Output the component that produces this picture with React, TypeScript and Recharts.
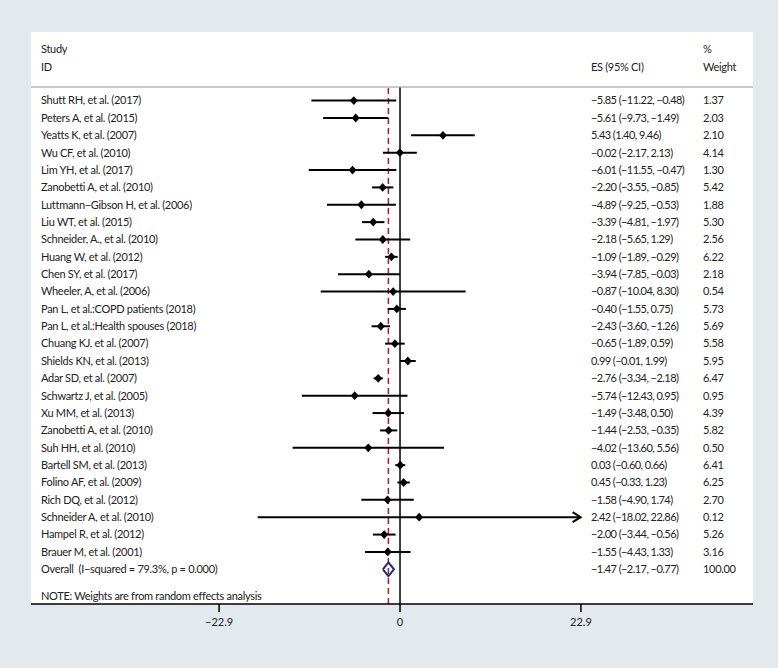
import React from "react"
import { ScatterChart, Scatter, XAxis, YAxis, ReferenceLine } from "recharts"

const studies = [
  "Shutt RH, et al. (2017)",
  "Peters A, et al. (2015)",
  "Yeatts K, et al. (2007)",
  "Wu CF, et al. (2010)",
  "Lim YH, et al. (2017)",
  "Zanobetti A, et al. (2010)",
  "Luttmann\u2212Gibson H, et al. (2006)",
  "Liu WT, et al. (2015)",
  "Schneider, A., et al. (2010)",
  "Huang W, et al. (2012)",
  "Chen SY, et al. (2017)",
  "Wheeler, A, et al. (2006)",
  "Pan L, et al.:COPD patients (2018)",
  "Pan L, et al.:Health spouses (2018)",
  "Chuang KJ, et al. (2007)",
  "Shields KN, et al. (2013)",
  "Adar SD, et al. (2007)",
  "Schwartz J, et al. (2005)",
  "Xu MM, et al. (2013)",
  "Zanobetti A, et al. (2010)",
  "Suh HH, et al. (2010)",
  "Bartell SM, et al. (2013)",
  "Folino AF, et al. (2009)",
  "Rich DQ, et al. (2012)",
  "Schneider A, et al. (2010)",
  "Hampel R, et al. (2012)",
  "Brauer M, et al. (2001)",
]

const es = [
  -5.85, -5.61, 5.43, -0.02, -6.01, -2.2, -4.89, -3.39, -2.18, -1.09, -3.94, -0.87, -0.4, -2.43,
  -0.65, 0.99, -2.76, -5.74, -1.49, -1.44, -4.02, 0.03, 0.45, -1.58, 2.42, -2.0, -1.55,
]
const ciLow = [
  -11.22, -9.73, 1.4, -2.17, -11.55, -3.55, -9.25, -4.81, -5.65, -1.89, -7.85, -10.04, -1.55, -3.6,
  -1.89, -0.01, -3.34, -12.43, -3.48, -2.53, -13.6, -0.6, -0.33, -4.9, -18.02, -3.44, -4.43,
]
const ciHigh = [
  -0.48, -1.49, 9.46, 2.13, -0.47, -0.85, -0.53, -1.97, 1.29, -0.29, -0.03, 8.3, 0.75, -1.26,
  0.59, 1.99, -2.18, 0.95, 0.5, -0.35, 5.56, 0.66, 1.23, 1.74, 22.86, -0.56, 1.33,
]
const weights = [
  1.37, 2.03, 2.1, 4.14, 1.3, 5.42, 1.88, 5.3, 2.56, 6.22, 2.18, 0.54, 5.73, 5.69, 5.58, 5.95,
  6.47, 0.95, 4.39, 5.82, 0.5, 6.41, 6.25, 2.7, 0.12, 5.26, 3.16,
]

const overallLabel = "Overall  (I\u2212squared = 79.3%, p = 0.000)"
const overall = { es: -1.47, lo: -2.17, hi: -0.77, weight: 100 }
const noteLabel = "NOTE: Weights are from random effects analysis"

const xTicks = [-22.9, 0, 22.9]
const axisLimit = 22.9

const FONT = "Lato, 'Open Sans', sans-serif"
const TEXT = "#222"
const FS = 11
const LS = -0.3

const fmt = (v: number) => v.toFixed(2).replace("-", "\u2212")
const esText = (e: number, l: number, h: number) => `${fmt(e)} (${fmt(l)}, ${fmt(h)})`

const rows = studies.map((name, i) => ({
  row: i + 1,
  name,
  es: es[i],
  lo: ciLow[i],
  hi: ciHigh[i],
  w: weights[i],
}))
const overallRow = rows.length + 1
const noteRow = overallRow + 1.55

const points = rows.map((r) => ({ x: r.es, y: r.row }))
const arrows = rows.filter((r) => r.hi >= axisLimit - 0.1).map((r) => ({ x: r.hi, y: r.row }))
const dh = 0.4
const diamond = [
  { x: overall.lo, y: overallRow },
  { x: overall.es, y: overallRow - dh },
  { x: overall.hi, y: overallRow },
  { x: overall.es, y: overallRow + dh },
  { x: overall.lo, y: overallRow },
]

const Marker = (props: any) => {
  const { cx, cy } = props
  return <polygon points={`${cx - 4},${cy} ${cx},${cy - 4.4} ${cx + 4},${cy} ${cx},${cy + 4.4}`} fill="#000" />
}

const Arrow = (props: any) => {
  const { cx, cy } = props
  return (
    <path d={`M${cx - 8},${cy - 5} L${cx},${cy} L${cx - 8},${cy + 5}`} fill="none" stroke="#000" strokeWidth={2} />
  )
}

const Empty = () => <g />

const RowTick = (props: any) => {
  const { y, payload } = props
  const v = payload.value
  const style = { fontFamily: FONT, fontSize: FS, fill: TEXT, letterSpacing: LS }
  if (v === noteRow) {
    return (
      <text x={41} y={y} dy="0.35em" style={style}>
        {noteLabel}
      </text>
    )
  }
  const r = v === overallRow ? null : rows[v - 1]
  const label = r ? r.name : overallLabel
  const ci = r ? esText(r.es, r.lo, r.hi) : esText(overall.es, overall.lo, overall.hi)
  const w = r ? r.w.toFixed(2) : overall.weight.toFixed(2)
  return (
    <g>
      <text x={41} y={y} dy="0.35em" style={{ ...style, whiteSpace: "pre" }} xmlSpace="preserve">
        {label}
      </text>
      <text x={591} y={y} dy="0.35em" style={{ ...style, letterSpacing: -0.55 }}>
        {ci}
      </text>
      <text x={703} y={y} dy="0.35em" style={style}>
        {w}
      </text>
    </g>
  )
}

const headStyle: React.CSSProperties = {
  position: "absolute",
  fontFamily: FONT,
  fontSize: FS,
  letterSpacing: LS,
  color: TEXT,
  lineHeight: "14px",
}

export default function App() {
  const yTicks = [...rows.map((r) => r.row), overallRow, noteRow]
  return (
    <div style={{ position: "absolute", left: 0, top: 0, width: 778, height: 668, background: "#e3e9ec" }}>
      <div style={{ position: "absolute", left: 31, top: 32, width: 722, height: 572, background: "#fff" }} />
      <div style={{ position: "absolute", left: 31, top: 86, width: 722, height: 1.5, background: "#c9c9c9" }} />
      <div style={{ ...headStyle, left: 41, top: 42 }}>Study</div>
      <div style={{ ...headStyle, left: 41, top: 60 }}>ID</div>
      <div style={{ ...headStyle, left: 591, top: 60 }}>ES (95% CI)</div>
      <div style={{ ...headStyle, left: 703, top: 42 }}>%</div>
      <div style={{ ...headStyle, left: 703, top: 60 }}>Weight</div>
      <div style={{ position: "absolute", left: 0, top: 0 }}>
        <ScatterChart width={778} height={668} margin={{ top: 87.6, right: 25, bottom: 34, left: 1 }}>
          <XAxis
            type="number"
            dataKey="x"
            domain={[-46.71, 44.68]}
            allowDataOverflow
            ticks={xTicks}
            tickFormatter={(v: number) => String(v).replace("-", "\u2212")}
            height={30}
            tickSize={8}
            tickMargin={6}
            axisLine={{ stroke: "#000", strokeWidth: 1.5 }}
            tickLine={{ stroke: "#000", strokeWidth: 1.5 }}
            tick={{ fontFamily: FONT, fontSize: FS, fill: TEXT }}
          />
          <YAxis
            type="number"
            dataKey="y"
            domain={[0.25, 30]}
            allowDataOverflow
            reversed
            width={30}
            ticks={yTicks}
            interval={0}
            axisLine={false}
            tickLine={false}
            tick={<RowTick />}
          />
          <ReferenceLine x={0} stroke="#000" strokeWidth={1.5} />
          <ReferenceLine x={overall.es} stroke="#b0182c" strokeWidth={1.5} strokeDasharray="6 4" />
          {rows.map((r) => (
            <ReferenceLine
              key={r.row}
              segment={[
                { x: r.lo, y: r.row },
                { x: Math.min(r.hi, axisLimit), y: r.row },
              ]}
              stroke="#000"
              strokeWidth={2}
            />
          ))}
          <Scatter data={points} shape={<Marker />} isAnimationActive={false} />
          <Scatter data={arrows} shape={<Arrow />} isAnimationActive={false} />
          <Scatter
            data={diamond}
            shape={<Empty />}
            line={{ stroke: "#1f2f73", strokeWidth: 2 }}
            lineType="joint"
            isAnimationActive={false}
          />
        </ScatterChart>
      </div>
    </div>
  )
}
